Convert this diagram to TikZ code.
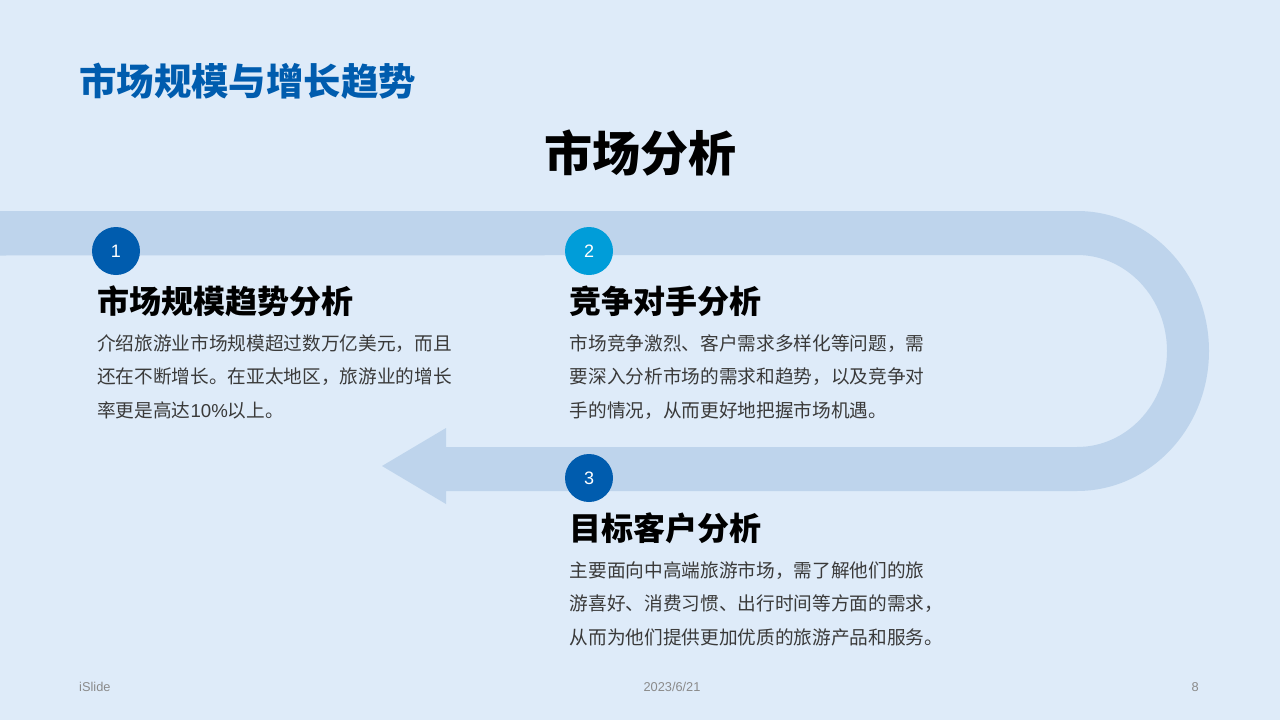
\documentclass[tikz,border=0pt]{standalone}
\usepackage{fontspec}
\setmainfont{Liberation Sans}
\newfontfamily\cjk{Noto Sans CJK SC}
\definecolor{pagebg}{HTML}{DEEBF9}
\definecolor{bandblue}{HTML}{BED4EC}
\definecolor{darkblue}{HTML}{005CAE}
\definecolor{cyanblue}{HTML}{009DD9}
\definecolor{bodygray}{HTML}{3A3A3A}
\definecolor{footgray}{HTML}{8A8A8A}
\tikzset{
    numdot/.style={circle,minimum size=48pt,inner sep=0pt,text=white,font=\fontsize{18}{18}\selectfont},
    headtext/.style={anchor=west,inner sep=0pt,font=\cjk\bfseries\fontsize{32}{32}\selectfont},
    bodytext/.style={anchor=north west,inner sep=0pt,align=left,text=bodygray,font=\cjk\fontsize{18.67}{33.6}\selectfont},
    foottext/.style={inner sep=0pt,text=footgray,font=\fontsize{12.8}{13}\selectfont}
}
\begin{document}
\begin{tikzpicture}[x=1pt,y=-1pt]
    \useasboundingbox (0,0) rectangle (1280,720);
    \fill[pagebg] (0,0) rectangle (1280,720);
    \fill[bandblue] (0,211) -- (1077,211) arc [start angle=90,end angle=-90,x radius=132pt,y radius=140pt]
        -- (446,491) -- (446,504) -- (382,466) -- (446,428) -- (446,447) -- (1077,447)
        arc [start angle=-90,end angle=90,x radius=90pt,y radius=96pt] -- (0,255.5) -- cycle;
    \node[anchor=west,inner sep=0pt,text=darkblue,font=\cjk\bfseries\fontsize{37.4}{37.4}\selectfont] (title) at (79,81.5) {市场规模与增长趋势};
    \node[inner sep=0pt,font=\cjk\bfseries\fontsize{48}{48}\selectfont] (topic) at (640.5,153) {市场分析};
    \node[numdot,fill=darkblue] (numa) at (116,251) {1};
    \node[numdot,fill=cyanblue] (numb) at (589,251) {2};
    \node[numdot,fill=darkblue] (numc) at (589,478) {3};
    \node[headtext] (heada) at (97,301) {市场规模趋势分析};
    \node[headtext] (headb) at (569.5,301) {竞争对手分析};
    \node[headtext] (headc) at (569.5,528.5) {目标客户分析};
    \node[bodytext] (bodya) at (97,334) {介绍旅游业市场规模超过数万亿美元，而且\\还在不断增长。在亚太地区，旅游业的增长\\率更是高达{\rmfamily 10\%}以上。};
    \node[bodytext] (bodyb) at (569.5,334) {市场竞争激烈、客户需求多样化等问题，需\\要深入分析市场的需求和趋势，以及竞争对\\手的情况，从而更好地把握市场机遇。};
    \node[bodytext] (bodyc) at (569.5,561) {主要面向中高端旅游市场，需了解他们的旅\\游喜好、消费习惯、出行时间等方面的需求，\\从而为他们提供更加优质的旅游产品和服务。};
    \node[foottext,anchor=west] (footl) at (79,687) {iSlide};
    \node[foottext] (footm) at (672,687) {2023/6/21};
    \node[foottext,anchor=east] (footr) at (1199,687) {8};
\end{tikzpicture}
\end{document}
